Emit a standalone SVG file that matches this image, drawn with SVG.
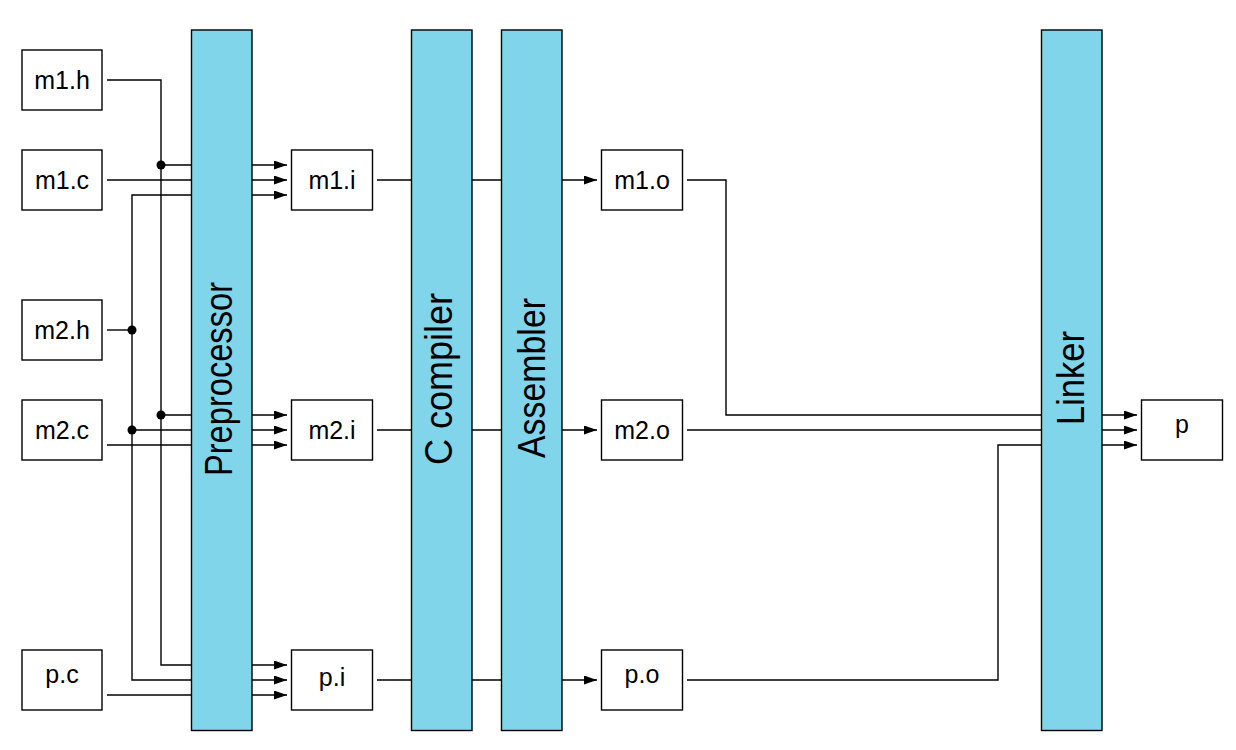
<svg xmlns="http://www.w3.org/2000/svg" width="1236" height="750" viewBox="0 0 1236 750">
<defs>
<marker id="arr" markerUnits="userSpaceOnUse" markerWidth="14" markerHeight="10" refX="13" refY="4.5" orient="auto">
<path d="M0,0 L13,4.5 L0,9 z" fill="#000"/>
</marker>
<style>
.box{fill:#fff;stroke:#000;stroke-width:1.4}
.bar{fill:#80d5ea;stroke:#000;stroke-width:1.4}
.lbl{font-family:"Liberation Sans",Arial,sans-serif;font-size:25px;fill:#000;text-anchor:middle}
.big{font-family:"Liberation Sans",Arial,sans-serif;font-size:38px;fill:#000;text-anchor:middle}
.ln{fill:none;stroke:#000;stroke-width:1.4}
.ar{fill:none;stroke:#000;stroke-width:1.4;marker-end:url(#arr)}
.dot{fill:#000}
</style>
</defs>
<rect width="1236" height="750" fill="#fff"/>
<g id="connectors">
<path class="ln" d="M107,80 H161 V665 H191"/>
<path class="ln" d="M161,165 H191 M161,415 H191"/>
<path class="ln" d="M107,180 H191"/>
<path class="ln" d="M191,195 H132 V680 H191"/>
<path class="ln" d="M107,330 H132"/>
<path class="ln" d="M132,430 H191"/>
<path class="ln" d="M107,445 H191"/>
<path class="ln" d="M107,695 H191"/>
<circle class="dot" cx="161" cy="165" r="4.5"/>
<circle class="dot" cx="161" cy="415" r="4.5"/>
<circle class="dot" cx="132" cy="330" r="4.5"/>
<circle class="dot" cx="132" cy="430" r="4.5"/>
<path class="ar" d="M252,165 H287"/>
<path class="ar" d="M252,180 H287"/>
<path class="ar" d="M252,195 H287"/>
<path class="ar" d="M252,415 H287"/>
<path class="ar" d="M252,430 H287"/>
<path class="ar" d="M252,445 H287"/>
<path class="ar" d="M252,665 H287"/>
<path class="ar" d="M252,680 H287"/>
<path class="ar" d="M252,695 H287"/>
<path class="ln" d="M377,180 H411 M472,180 H501"/>
<path class="ln" d="M377,430 H411 M472,430 H501"/>
<path class="ln" d="M377,680 H411 M472,680 H501"/>
<path class="ar" d="M562,180 H597"/>
<path class="ar" d="M562,430 H597"/>
<path class="ar" d="M562,680 H597"/>
<path class="ln" d="M687,180 H726 V415 H1041"/>
<path class="ln" d="M687,430 H1041"/>
<path class="ln" d="M687,680 H998 V445 H1041"/>
<path class="ar" d="M1102,415 H1137"/>
<path class="ar" d="M1102,430 H1137"/>
<path class="ar" d="M1102,445 H1137"/>
</g>
<g id="preprocessor"><rect class="bar" x="191.5" y="30" width="60.5" height="700.5"/><text class="big" transform="translate(221.5,379) rotate(-90)" x="0" y="10.5" textLength="194" lengthAdjust="spacingAndGlyphs">Preprocessor</text></g>
<g id="ccompiler"><rect class="bar" x="411.5" y="30" width="60.5" height="700.5"/><text class="big" transform="translate(441.5,379) rotate(-90)" x="0" y="10.5" textLength="172" lengthAdjust="spacingAndGlyphs">C compiler</text></g>
<g id="assembler"><rect class="bar" x="501.5" y="30" width="60.5" height="700.5"/><text class="big" transform="translate(531.5,378) rotate(-90)" x="0" y="13" textLength="160" lengthAdjust="spacingAndGlyphs">Assembler</text></g>
<g id="linker"><rect class="bar" x="1041.5" y="30" width="60.5" height="700.5"/><text class="big" transform="translate(1071.5,378) rotate(-90)" x="0" y="12.5" textLength="94" lengthAdjust="spacingAndGlyphs">Linker</text></g>
<g id="m1h"><rect class="box" x="22" y="50" width="80" height="60"/><text class="lbl" x="62" y="89">m1.h</text></g>
<g id="m1c"><rect class="box" x="22" y="150" width="80" height="60"/><text class="lbl" x="62" y="189">m1.c</text></g>
<g id="m2h"><rect class="box" x="22" y="300" width="80" height="60"/><text class="lbl" x="62" y="339">m2.h</text></g>
<g id="m2c"><rect class="box" x="22" y="400" width="80" height="60"/><text class="lbl" x="62" y="439">m2.c</text></g>
<g id="pc"><rect class="box" x="22" y="650" width="80" height="60"/><text class="lbl" x="62" y="683">p.c</text></g>
<g id="m1i"><rect class="box" x="291.5" y="150" width="81" height="60"/><text class="lbl" x="332" y="189">m1.i</text></g>
<g id="m2i"><rect class="box" x="291.5" y="400" width="81" height="60"/><text class="lbl" x="332" y="439">m2.i</text></g>
<g id="pi"><rect class="box" x="291.5" y="650" width="81" height="60"/><text class="lbl" x="332" y="686">p.i</text></g>
<g id="m1o"><rect class="box" x="601.5" y="150" width="81" height="60"/><text class="lbl" x="642" y="189">m1.o</text></g>
<g id="m2o"><rect class="box" x="601.5" y="400" width="81" height="60"/><text class="lbl" x="642" y="439">m2.o</text></g>
<g id="po"><rect class="box" x="601.5" y="650" width="81" height="60"/><text class="lbl" x="642" y="683">p.o</text></g>
<g id="p"><rect class="box" x="1141.5" y="400" width="81" height="60"/><text class="lbl" x="1182" y="433">p</text></g>
</svg>
